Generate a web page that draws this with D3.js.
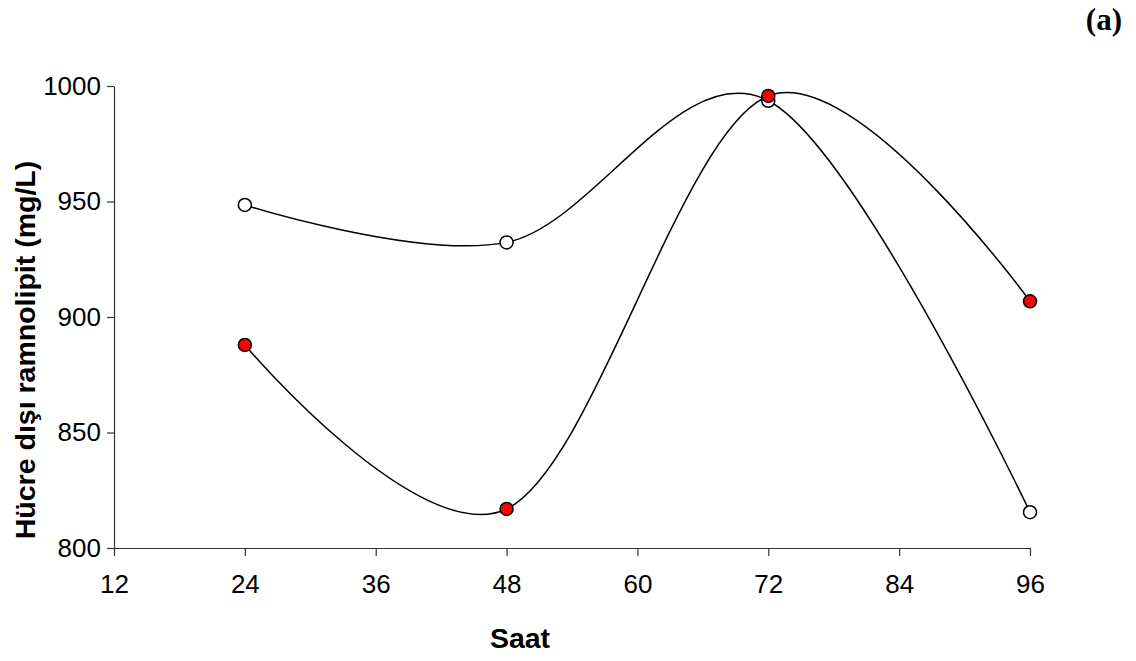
<!DOCTYPE html>
<html>
<head>
<meta charset="utf-8">
<script src="https://cdn.jsdelivr.net/npm/d3@7"></script>
<style>
  body { margin: 0; background: #fff; }
  .tick text { font-family: "Liberation Sans", Arial, sans-serif; }
</style>
</head>
<body>
<div class="visHolder"></div>
<script>
// hours on the x axis
var hours = [24, 48, 72, 96];
// open markers
var whiteSeries = [948.5, 932.3, 993.6, 815.5];
// red markers
var redSeries = [887.9, 816.9, 995.7, 906.8];

var xTicks = [12, 24, 36, 48, 60, 72, 84, 96];
var yTicks = [800, 850, 900, 950, 1000];

var width = 1136,
    height = 661;

var svg = d3.select('.visHolder')
  .append('svg')
  .attr('width', width)
  .attr('height', height);

var xScale = d3.scaleLinear()
  .domain([12, 96])
  .range([114, 1030]);

var yScale = d3.scaleLinear()
  .domain([800, 1000])
  .range([548, 86]);

var xAxis = d3.axisBottom(xScale)
  .tickValues(xTicks)
  .tickFormat(d3.format('d'))
  .tickSize(8)
  .tickSizeOuter(0)
  .tickPadding(19);

var yAxis = d3.axisLeft(yScale)
  .tickValues(yTicks)
  .tickFormat(d3.format('d'))
  .tickSize(7)
  .tickSizeOuter(0)
  .tickPadding(6);

var gx = svg.append('g')
  .attr('transform', 'translate(0,' + yScale(800) + ')')
  .call(xAxis);

var gy = svg.append('g')
  .attr('transform', 'translate(' + xScale(12) + ',0)')
  .call(yAxis);

[gx, gy].forEach(function (g) {
  g.selectAll('path, line').attr('stroke', '#333').attr('stroke-width', 1.2);
  g.selectAll('text').attr('fill', '#000').style('font-size', '26px');
});

// axis titles
svg.append('text')
  .attr('x', 520)
  .attr('y', 648)
  .attr('text-anchor', 'middle')
  .style('font-family', '"Liberation Sans", Arial, sans-serif')
  .style('font-weight', 'bold')
  .style('font-size', '28.5px')
  .text('Saat');

svg.append('text')
  .attr('transform', 'translate(35,350) rotate(-90)')
  .attr('text-anchor', 'middle')
  .style('font-family', '"Liberation Sans", Arial, sans-serif')
  .style('font-weight', 'bold')
  .style('font-size', '28.5px')
  .text('Hücre dışı ramnolipit (mg/L)');

svg.append('text')
  .attr('x', 1122)
  .attr('y', 30)
  .attr('text-anchor', 'end')
  .style('font-family', '"Liberation Serif", "Times New Roman", serif')
  .style('font-weight', 'bold')
  .style('font-size', '31px')
  .text('(a)');

var series = [
  { values: whiteSeries, fill: '#ffffff' },
  { values: redSeries, fill: '#ff0000' }
];

var line = d3.line()
  .x(function (d) { return xScale(d[0]); })
  .y(function (d) { return yScale(d[1]); })
  .curve(d3.curveCardinal.tension(0));

series.forEach(function (s) {
  var pts = hours.map(function (h, i) { return [h, s.values[i]]; });
  svg.append('path')
    .datum(pts)
    .attr('d', line)
    .attr('fill', 'none')
    .attr('stroke', '#000')
    .attr('stroke-width', 1.5);
});

series.forEach(function (s) {
  var pts = hours.map(function (h, i) { return [h, s.values[i]]; });
  svg.selectAll(null)
    .data(pts)
    .enter()
    .append('circle')
    .attr('cx', function (d) { return xScale(d[0]); })
    .attr('cy', function (d) { return yScale(d[1]); })
    .attr('r', 6.5)
    .attr('fill', s.fill)
    .attr('stroke', '#000')
    .attr('stroke-width', 1.5);
});
</script>
</body>
</html>
